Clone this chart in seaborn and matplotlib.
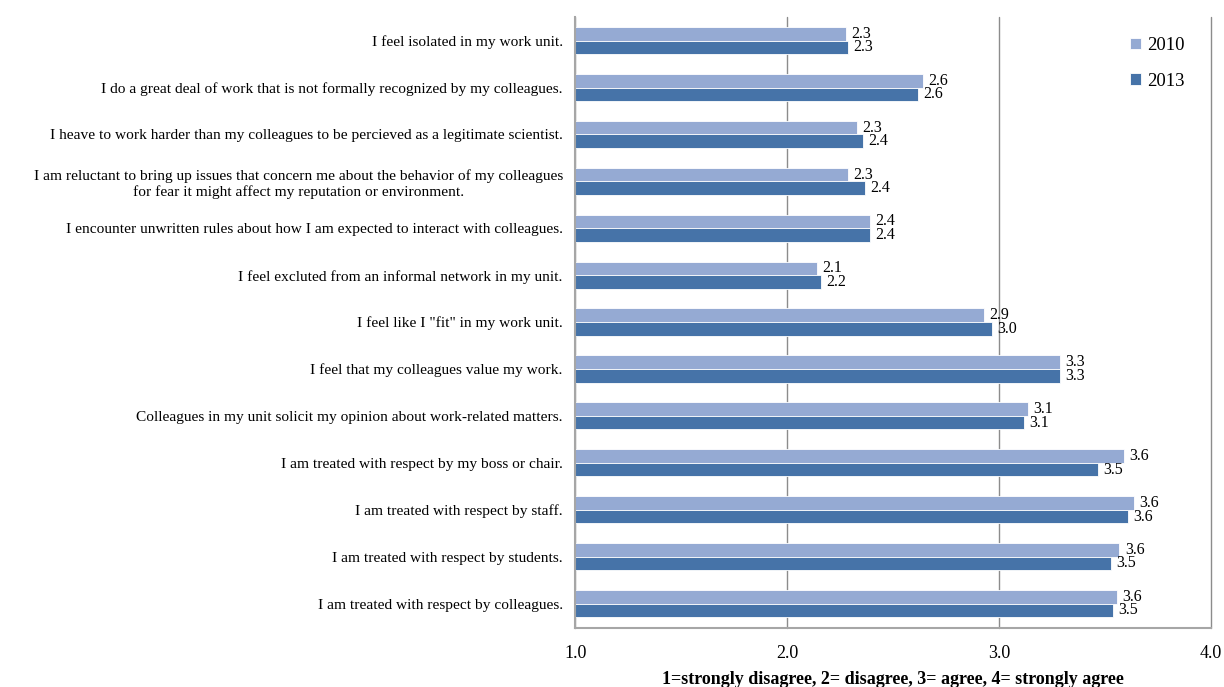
import numpy as np
import pandas as pd
import seaborn as sns
import matplotlib.pyplot as plt
from matplotlib.ticker import FixedLocator

sns.set_style('white')
plt.rcParams['font.family'] = ['Liberation Serif', 'DejaVu Serif']
plt.rcParams['text.color'] = 'black'
plt.rcParams['xtick.color'] = 'black'
plt.rcParams['ytick.color'] = 'black'
plt.rcParams['axes.labelcolor'] = 'black'

# data
items = [
    'I feel isolated in my work unit.',
    'I do a great deal of work that is not formally recognized by my colleagues.',
    'I heave to work harder than my colleagues to be percieved as a legitimate scientist.',
    'I am reluctant to bring up issues that concern me about the behavior of my colleagues\nfor fear it might affect my reputation or environment.',
    'I encounter unwritten rules about how I am expected to interact with colleagues.',
    'I feel excluted from an informal network in my unit.',
    'I feel like I "fit" in my work unit.',
    'I feel that my colleagues value my work.',
    'Colleagues in my unit solicit my opinion about work-related matters.',
    'I am treated with respect by my boss or chair.',
    'I am treated with respect by staff.',
    'I am treated with respect by students.',
    'I am treated with respect by colleagues.',
]
vals_2010 = [2.28, 2.64, 2.33, 2.29, 2.39, 2.14, 2.93, 3.29, 3.14, 3.59, 3.64, 3.57, 3.56]
vals_2013 = [2.29, 2.62, 2.36, 2.37, 2.39, 2.16, 2.97, 3.29, 3.12, 3.47, 3.61, 3.53, 3.54]
years = ['2010', '2013']

df = pd.DataFrame({
    'item': items * 2,
    'score': vals_2010 + vals_2013,
    'year': [years[0]] * len(items) + [years[1]] * len(items),
})

colors = {'2010': '#95AAD3', '2013': '#4673A8'}

fig = plt.figure(figsize=(12.24, 6.87), dpi=100)
ax = fig.add_axes([0.470, 0.086, 0.519, 0.889])

sns.barplot(data=df, y='item', x='score', hue='year', order=items, hue_order=years,
            palette=colors, orient='h', width=0.58, ax=ax, errorbar=None,
            edgecolor='white', linewidth=0.6, saturation=1)

# value labels
for cont, yr in zip(ax.containers, years):
    for bar in cont:
        w = bar.get_width()
        yc = bar.get_y() + bar.get_height() / 2
        ax.text(w + 0.025, yc, f'{w:.1f}', va='center', ha='left', fontsize=11.5, color='black')

ax.set_xlim(1.0, 4.0)
ax.set_ylim(12.52, -0.5)
ax.set_xticks([1, 2, 3, 4])
ax.set_xticklabels(['1.0', '2.0', '3.0', '4.0'], fontsize=13)
ax.xaxis.grid(True, color='#8C8C8C', linewidth=1)
for gl in ax.get_xgridlines():
    gl.set_clip_on(False)
ax.set_axisbelow(True)
ax.tick_params(axis='x', length=5, color='#A6A6A6', pad=10, direction='inout')
ax.set_xlabel('1=strongly disagree, 2= disagree, 3= agree, 4= strongly agree',
              fontsize=13, fontweight='bold', labelpad=6)
ax.set_ylabel('')

ax.tick_params(axis='y', which='major', length=0, pad=9, labelsize=11.1)
for lab in ax.get_yticklabels():
    lab.set_multialignment('center')
ax.yaxis.set_minor_locator(FixedLocator(np.arange(-0.5, len(items), 1.0)))
ax.tick_params(axis='y', which='minor', length=5, color='#A6A6A6', direction='out')

for side in ['top', 'right']:
    ax.spines[side].set_visible(False)
for side in ['left', 'bottom']:
    ax.spines[side].set_color('#A6A6A6')
    ax.spines[side].set_linewidth(1.5)

ax.legend(loc='upper right', bbox_to_anchor=(0.985, 0.995), frameon=False, fontsize=13.5,
          handlelength=0.6, handleheight=0.6, handletextpad=0.3, labelspacing=1.0,
          title=None)

fig.savefig('out.png', dpi=100)
